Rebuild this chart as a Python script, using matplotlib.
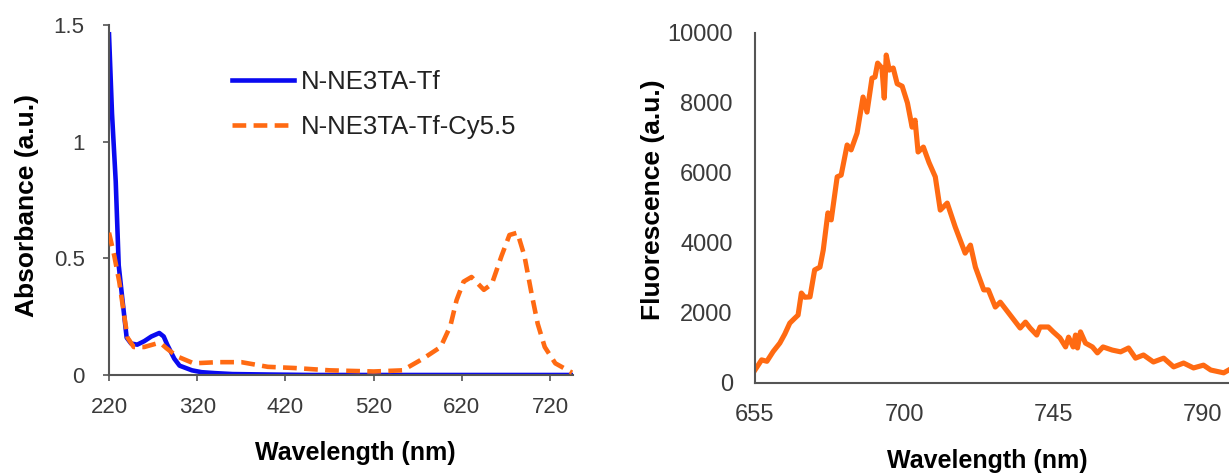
import matplotlib
matplotlib.use("Agg")
import matplotlib.pyplot as plt

plt.rcParams['font.family'] = ['Liberation Sans', 'DejaVu Sans']

# --- absorbance spectra (left panel) ---
wl_tf = [220, 223.4, 227.6, 231, 235, 240, 245, 252, 260, 268, 277, 282, 286,
         290, 294, 300, 307, 314, 325, 340, 360, 400, 450, 746]
abs_tf = [1.46, 1.12, 0.83, 0.47, 0.33, 0.16, 0.135, 0.13, 0.145, 0.165, 0.18,
          0.165, 0.13, 0.10, 0.07, 0.04, 0.03, 0.02, 0.012, 0.008, 0.004, 0.002,
          0.0, 0.0]

wl_cy = [220, 226, 231.6, 237, 241, 248, 260, 274, 279, 285, 297, 316, 343, 370,
         400, 430, 470, 520, 553, 576, 596, 607, 614, 622, 631, 645, 654, 665,
         674, 683, 691, 699, 706, 714, 726, 745]
abs_cy = [0.61, 0.51, 0.40, 0.26, 0.16, 0.12, 0.12, 0.135, 0.135, 0.115, 0.08,
          0.05, 0.055, 0.055, 0.035, 0.03, 0.02, 0.015, 0.02, 0.07, 0.12, 0.21,
          0.32, 0.40, 0.42, 0.365, 0.39, 0.51, 0.60, 0.61, 0.51, 0.35, 0.22,
          0.12, 0.05, 0.01]

abs_xticks = [220, 320, 420, 520, 620, 720]
abs_yticks = [0, 0.5, 1, 1.5]
abs_ylabels = ['0', '0.5', '1', '1.5']
labels = ['N-NE3TA-Tf', 'N-NE3TA-Tf-Cy5.5']

# --- fluorescence spectrum (right panel) ---
wl_fl = [655, 657, 658.6, 660.5, 662.5, 664, 665.5, 667, 668, 669, 670, 671.6,
         673, 674.6, 675.6, 677, 678, 679.8, 681, 682.8, 684, 685.8, 687.6,
         688.8, 690.3, 691.2, 692, 693.3, 694, 694.6, 695.5, 696.7, 697.9,
         699.4, 701, 702.4, 703.3, 704.2, 705.8, 707.5, 709.4, 710.9, 713,
         715.4, 718.4, 720, 721.5, 724, 725.4, 727.5, 729, 732, 735, 736.6, 738,
         740, 741, 743.5, 745, 747, 748.7, 749.6, 751, 751.7, 752.3, 753.2,
         754.7, 756.8, 758.3, 760, 762.8, 765.3, 767.7, 769.8, 772.2, 775.2,
         778.3, 781.3, 784.3, 787.3, 790.3, 792.5, 796.4, 797.9]
fl = [370, 660, 620, 900, 1140, 1400, 1710, 1850, 1940, 2570, 2450, 2460,
      3230, 3310, 3800, 4860, 4660, 5890, 5940, 6800, 6660, 7140, 8170,
      7740, 8710, 8740, 9140, 9000, 8140, 9370, 8940, 9000, 8550,
      8480, 8000, 7310, 7510, 6600, 6740, 6300, 5890, 4940, 5140,
      4460, 3710, 3940, 3310, 2660, 2660, 2170, 2310, 1940, 1570, 1740, 1570,
      1370, 1600, 1600, 1460, 1290, 1030, 1310, 1030, 1370, 1000, 1460,
      1140, 1030, 860, 1030, 940, 890, 1000, 710, 800, 600,
      710, 460, 570, 430, 510, 370, 290, 370]

fl_xticks = [655, 700, 745, 790]
fl_yticks = [0, 2000, 4000, 6000, 8000, 10000]

blue = '#0A0AF0'
orange = '#FF6A12'
spine_c = '#555555'
tick_c = '#3A3A3A'

fig = plt.figure(figsize=(12.29, 4.76), dpi=100)

# left panel
ax1 = fig.add_axes([0.0887, 0.2122, 0.3775, 0.7353])
ax1.plot(wl_tf, abs_tf, color=blue, lw=3.3, label=labels[0],
         solid_joinstyle='round', zorder=2)
ax1.plot(wl_cy, abs_cy, color=orange, lw=3.3, dashes=(3.0, 1.6),
         dash_capstyle='butt', label=labels[1], zorder=3)
ax1.set_xlim(220, 746)
ax1.set_ylim(0, 1.5)
ax1.set_xticks(abs_xticks)
ax1.set_yticks(abs_yticks, abs_ylabels)
ax1.tick_params(axis='both', direction='out', length=4.5, width=1.2,
                color=spine_c, labelsize=16, labelcolor=tick_c)
ax1.tick_params(axis='y', pad=13)
ax1.tick_params(axis='x', pad=11)
ax1.set_xlabel('Wavelength (nm)', fontsize=18, fontweight='bold')
ax1.set_ylabel('Absorbance (a.u.)', fontsize=19, fontweight='bold')
ax1.xaxis.set_label_coords(0.53, -0.19)
ax1.yaxis.set_label_coords(-0.15, 0.483)
leg = ax1.legend(loc='upper left', bbox_to_anchor=(0.265, 0.87), frameon=False,
                 fontsize=18.5, handlelength=2.4, handletextpad=0.3,
                 labelspacing=0.8, borderpad=0, borderaxespad=0)
for t in leg.get_texts():
    t.set_color('#222222')

# right panel
ax2 = fig.add_axes([0.6143, 0.1954, 0.3857, 0.7353])
ax2.plot(wl_fl, fl, color=orange, lw=3.7, solid_joinstyle='round')
ax2.set_xlim(655, 798)
ax2.set_ylim(0, 10000)
ax2.set_xticks(fl_xticks)
ax2.set_yticks(fl_yticks)
ax2.tick_params(axis='both', length=0, labelsize=17, labelcolor=tick_c)
ax2.tick_params(axis='y', pad=16)
ax2.tick_params(axis='x', pad=15)
ax2.set_xlabel('Wavelength (nm)', fontsize=18, fontweight='bold')
ax2.set_ylabel('Fluorescence (a.u.)', fontsize=19, fontweight='bold')
ax2.xaxis.set_label_coords(0.49, -0.19)
ax2.yaxis.set_label_coords(-0.19, 0.523)

for ax in (ax1, ax2):
    ax.spines['top'].set_visible(False)
    ax.spines['right'].set_visible(False)
    for s in ('left', 'bottom'):
        ax.spines[s].set_color(spine_c)
        ax.spines[s].set_linewidth(1.5)
    ax.set_facecolor('white')

fig.savefig('out.png', dpi=100, facecolor='white')
